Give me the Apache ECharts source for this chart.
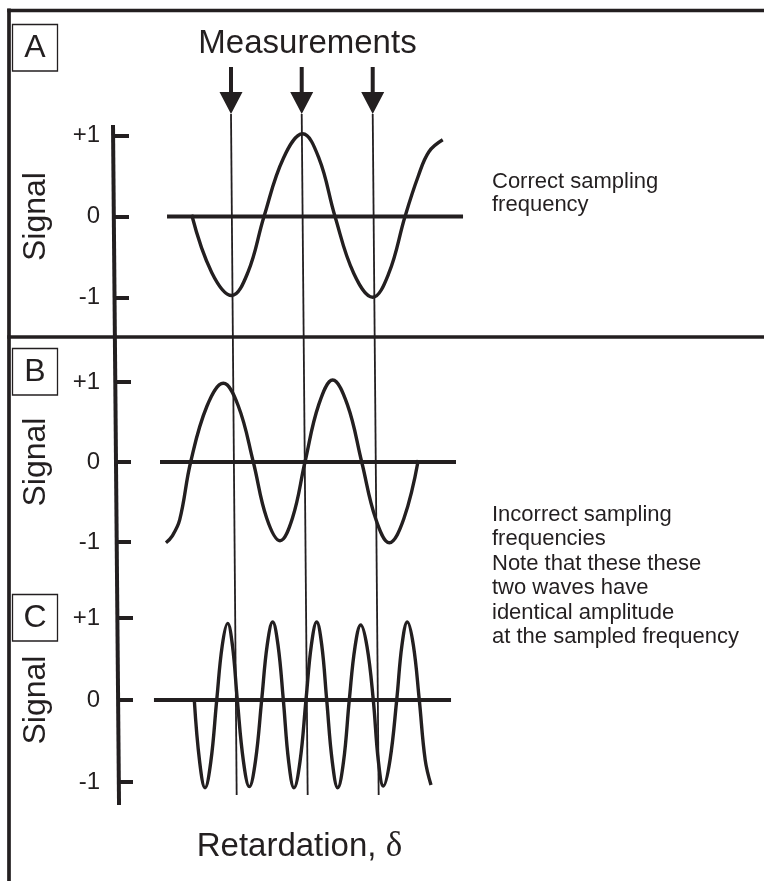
<!DOCTYPE html>
<html><head><meta charset="utf-8">
<script src="https://cdn.jsdelivr.net/npm/echarts@6/dist/echarts.min.js"></script>
<style>html,body{margin:0;padding:0;background:#fff}#c{width:764px;height:881px}</style>
</head><body><div id="c"></div>
<script>
const INK = '#231f20';
const FONT = '"Liberation Sans", Arial, Helvetica, sans-serif';

// Retardation (δ) positions, 1 unit = one sampling interval
const measureTop = [1.662, 2.658, 3.658];      // sampling positions at top of the figure
const measureBottom = [1.742, 2.742, 3.742];   // same lines at the bottom (hand-drawn slant)
const signalAxisTrace = [0.0, 0.085];          // long signal axis, top and bottom

const baselineA = [0.761, 4.930];
const baselineB = [0.662, 4.831];
const baselineC = [0.577, 4.761];

const waveA_x = [1.108, 1.39, 1.672, 1.90, 2.127, 2.40, 2.672, 2.90, 3.127, 3.39, 3.658, 3.885, 4.113, 4.30, 4.45, 4.644];
const waveA_y = [0.021, -0.69, -0.975, -0.69, 0, 0.72, 1.021, 0.72, 0, -0.70, -0.996, -0.70, 0, 0.50, 0.80, 0.947];
const waveB_x = [0.746, 0.83, 0.94, 1.094, 1.324, 1.554, 1.765, 1.976, 2.164, 2.352, 2.528, 2.704,
                 2.899, 3.094, 3.30, 3.503, 3.70, 3.892, 4.096, 4.300];
const waveB_y = [-1.009, -0.93, -0.72, 0, 0.70, 0.984, 0.70, 0, -0.70, -0.984, -0.70, 0,
                 0.72, 1.025, 0.72, 0, -0.71, -1.009, -0.71, 0.025];
const waveC_x = [1.145, 1.22, 1.296, 1.378, 1.461, 1.538, 1.615, 1.683, 1.751, 1.836, 1.920,
                 2.007, 2.094, 2.172, 2.249, 2.324, 2.399, 2.474, 2.549, 2.634, 2.718, 2.794,
                 2.869, 2.94, 3.010, 3.088, 3.165, 3.247, 3.328, 3.409, 3.489, 3.578, 3.666,
                 3.737, 3.807, 3.90, 3.996, 4.07, 4.145, 4.23, 4.314, 4.397, 4.479];
const waveC_y = [0, -0.75, -1.07, -0.75, 0, 0.66, 0.935, 0.66, 0, -0.74, -1.057,
                 -0.74, 0, 0.67, 0.951, 0.67, 0, -0.75, -1.07, -0.75, 0, 0.67,
                 0.951, 0.67, 0, -0.75, -1.07, -0.75, 0, 0.65, 0.915, 0.65, 0,
                 -0.74, -1.049, -0.74, 0, 0.67, 0.951, 0.67, 0, -0.73, -1.037];

const signalMin = -1, signalMax = 1, signalStep = 1;
const panelLabels = ['A', 'B', 'C'];
const axisName = 'Signal';
const titleText = 'Measurements';
const xTitle = 'Retardation, ';
const xSymbol = 'δ';
const noteA = ['Correct sampling', 'frequency'];
const noteBC = ['Incorrect sampling', 'frequencies', 'Note that these these',
                'two waves have', 'identical amplitude', 'at the sampled frequency'];

const zip = (xs, ys) => xs.map((x, i) => [x, ys[i]]);

// layout
const GL = 113, GW = 355;
const panels = [
  {top: 135.5, height: 162, offset: -1, margin: 14, gap: 62},
  {top: 382,   height: 160, offset: -3, margin: 16, gap: 64},
  {top: 618,   height: 164, offset: -5, margin: 18, gap: 66}
];
const grids = panels.map(p => ({left: GL, width: GW, top: p.top, height: p.height, outerBoundsMode: 'none', containLabel: false}));
grids.push({left: GL, width: GW, top: 114, height: 681, outerBoundsMode: 'none', containLabel: false}); // measurement overlay
grids.push({left: GL, width: GW, top: 125, height: 680, outerBoundsMode: 'none', containLabel: false}); // axis overlay

const xAxes = grids.map((g, i) => ({type: 'value', gridIndex: i, min: 0, max: 5, show: false}));
const yAxes = panels.map((p, i) => ({
  type: 'value', gridIndex: i, min: signalMin, max: signalMax, interval: signalStep,
  offset: p.offset,
  axisLine: {show: false},
  axisTick: {show: true, inside: true, length: 15, lineStyle: {color: INK, width: 4}},
  axisLabel: {margin: p.margin, fontSize: 24, fontFamily: FONT, color: INK,
              formatter: v => v > 0 ? '+' + v : String(v)},
  splitLine: {show: false},
  name: axisName, nameLocation: 'middle', nameRotate: 90, nameGap: p.gap,
  nameTextStyle: {fontSize: 32, fontFamily: FONT, color: INK}
}));
yAxes.push({type: 'value', gridIndex: 3, min: 0, max: 1, show: false});
yAxes.push({type: 'value', gridIndex: 4, min: 0, max: 1, show: false});

const waveStyle = {color: INK, width: 3.4};
const series = [];
[[waveA_x, waveA_y, baselineA], [waveB_x, waveB_y, baselineB], [waveC_x, waveC_y, baselineC]].forEach((w, i) => {
  series.push({type: 'line', xAxisIndex: i, yAxisIndex: i, data: [[w[2][0], 0], [w[2][1], 0]],
    symbol: 'none', clip: false, lineStyle: {color: INK, width: 3.8}});
  series.push({type: 'line', xAxisIndex: i, yAxisIndex: i, data: zip(w[0], w[1]),
    symbol: 'none', smooth: 0.4, clip: false, lineStyle: waveStyle});
});
measureTop.forEach((x, i) => {
  series.push({type: 'line', xAxisIndex: 3, yAxisIndex: 3, data: [[x, 1], [measureBottom[i], 0]],
    symbol: 'none', clip: false, lineStyle: {color: INK, width: 1.8}});
});
series.push({type: 'scatter', xAxisIndex: 3, yAxisIndex: 3, data: measureTop.map(x => [x, 1]),
  symbol: 'path://M-2,0L2,0L2,25L11.5,25L0,47L-11.5,25L-2,25Z', symbolSize: [23, 47],
  symbolOffset: [0, '-50%'], itemStyle: {color: INK, opacity: 1}, clip: false});
series.push({type: 'line', xAxisIndex: 4, yAxisIndex: 4,
  data: [[signalAxisTrace[0], 1], [signalAxisTrace[1], 0]],
  symbol: 'none', clip: false, lineStyle: {color: INK, width: 4}});

const graphic = [];
const hline = (x1, y1, x2, y2) => ({type: 'line', shape: {x1, y1, x2, y2}, style: {stroke: INK, lineWidth: 3.7}, silent: true});
graphic.push(hline(9, 8.5, 9, 881));
graphic.push(hline(7.3, 10.5, 764, 10.5));
graphic.push(hline(7.3, 337, 764, 337));
const boxes = [{y: 24.5, h: 46.5}, {y: 348.5, h: 46.5}, {y: 594.5, h: 46.5}];
panelLabels.forEach((t, i) => {
  const b = boxes[i];
  graphic.push({type: 'rect', shape: {x: 12.5, y: b.y, width: 45, height: b.h},
    style: {fill: '#fff', stroke: INK, lineWidth: 1.3}, z: 10});
  graphic.push({type: 'text', z: 11, style: {text: t, x: 35, y: b.y + b.h / 2 + 0.8,
    font: '32px ' + FONT, fill: INK, align: 'center', verticalAlign: 'middle',
    textAlign: 'center', textVerticalAlign: 'middle'}});
});
const txt = (text, x, y, size, align) => ({type: 'text', z: 11, style: {text, x, y,
  font: size + 'px ' + FONT, fill: INK, align: align, verticalAlign: 'middle',
  textAlign: align, textVerticalAlign: 'middle'}});
graphic.push(txt(titleText, 307.5, 43.5, 33, 'center'));
noteA.forEach((t, i) => graphic.push(txt(t, 492, 182.2 + i * 23, 22, 'left')));
noteBC.forEach((t, i) => graphic.push(txt(t, 492, 571.7 - 7.9 + (i - 2) * 24.4, 22, 'left')));
graphic.push({type: 'text', z: 11, style: {text: '{a|' + xTitle + '}{d|' + xSymbol + '}', x: 196.7, y: 847,
  align: 'left', verticalAlign: 'middle', textAlign: 'left', textVerticalAlign: 'middle',
  rich: {a: {fontSize: 33, fontFamily: FONT, fill: INK, color: INK},
         d: {fontSize: 35, fontFamily: '"Liberation Serif", "DejaVu Serif", serif', fill: INK, color: INK}}}});

const chart = echarts.init(document.getElementById('c'), null, {renderer: 'canvas'});
chart.setOption({
  animation: false,
  backgroundColor: '#fff',
  textStyle: {fontFamily: FONT},
  grid: grids, xAxis: xAxes, yAxis: yAxes, series, graphic
});
</script></body></html>
